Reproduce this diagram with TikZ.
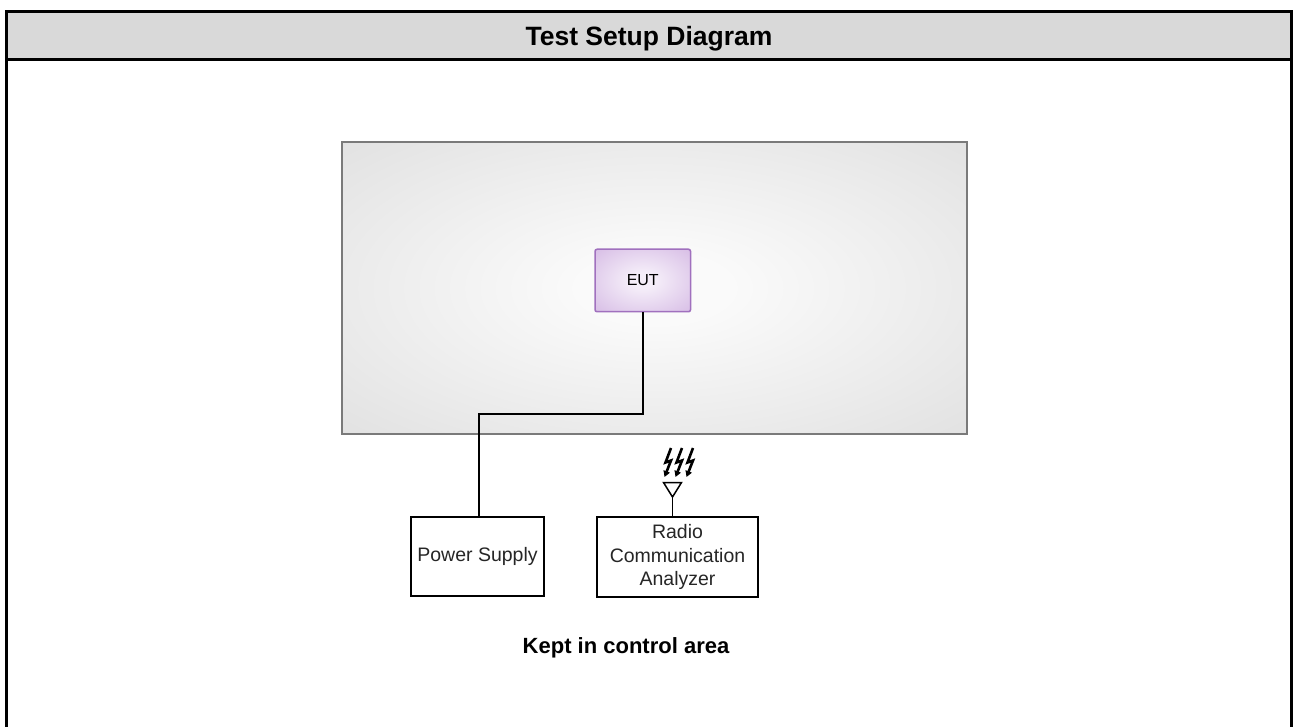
\documentclass[tikz,border=0pt]{standalone}
\usepackage{fontspec}
\setmainfont{Liberation Sans}
\usetikzlibrary{arrows.meta}
\definecolor{hdr}{HTML}{D9D9D9}
\definecolor{areaborder}{HTML}{7A7A7A}
\definecolor{areacenter}{HTML}{FAFAFA}
\definecolor{areamid}{HTML}{D6D6D6}
\definecolor{areaedge}{HTML}{C8C8C8}
\definecolor{eutborder}{HTML}{A070BE}
\definecolor{eutcenter}{HTML}{F5EEF9}
\definecolor{eutmid}{HTML}{C9A6DC}
\definecolor{eutedge}{HTML}{BC94D2}
\definecolor{boxtext}{HTML}{262626}
\pgfdeclareradialshading{arearad}{\pgfpointorigin}{color(0bp)=(areacenter); color(6bp)=(areacenter); color(50bp)=(areamid); color(72bp)=(areaedge)}
\pgfdeclareradialshading{eutrad}{\pgfpointorigin}{color(0bp)=(eutcenter); color(6bp)=(eutcenter); color(50bp)=(eutmid); color(72bp)=(eutedge)}
\tikzset{
  frameline/.style={line width=3pt, line join=miter},
  titletext/.style={font=\bfseries\fontsize{26.5}{30}\selectfont, inner sep=0pt},
  testarea/.style={draw=areaborder, line width=1.7pt, shading=arearad, inner sep=0pt},
  eutbox/.style={draw=eutborder, line width=1.5pt, shading=eutrad, rounded corners=2pt, inner sep=0pt, font=\fontsize{16}{19}\selectfont},
  devbox/.style={draw=black, line width=1.6pt, fill=white, inner sep=0pt, align=center, text=boxtext, font=\fontsize{19.5}{23.5}\selectfont},
  cable/.style={draw=black, line width=1.6pt},
  antline/.style={draw=black, line width=1.5pt, line join=miter},
  bolt/.style={draw=black, line width=2.6pt, -{Triangle[length=6pt,width=6.5pt]}},
  notetext/.style={font=\bfseries\fontsize{22}{26}\selectfont, inner sep=0pt}
}
\begin{document}
\begin{tikzpicture}[x=1pt,y=-1pt]
\useasboundingbox (0,0) rectangle (1293,727);
% header band and frame
\fill[hdr] (6.5,11.5) rectangle (1291.5,59.5);
\draw[frameline] (6.5,727) -- (6.5,11.5) -- (1291.5,11.5) -- (1291.5,727);
\draw[frameline] (6.5,59.5) -- (1291.5,59.5);
\node[titletext, anchor=base] (title) at (649,45.7) {Test Setup Diagram};
% test area
\node[testarea, minimum width=625pt, minimum height=292pt] (area) at (654.5,288) {};
% EUT
\node[eutbox, minimum width=95.5pt, minimum height=62.5pt] (eut) at (642.75,280.5) {EUT};
% devices
\node[devbox, minimum width=133pt, minimum height=79pt] (ps) at (477.5,556.5) {Power Supply};
\node[devbox, minimum width=161pt, minimum height=80pt] (rca) at (677.5,557) {Radio\\Communication\\Analyzer};
% cable
\draw[cable] (eut.south) -- (eut.south |- 0,414) -| ([xshift=1.5pt]ps.north);
% antenna
\coordinate (antfoot) at ([xshift=-5pt]rca.north);
\coordinate (anttip) at (672.5,497);
\draw[antline] (antfoot) -- (anttip);
\draw[antline] (anttip) -- (663.5,482.5) -- (681.5,482.5) -- cycle;
\foreach \dx in {0,11,22} {
  \draw[bolt] ({661+\dx+10},448) -- ({661+\dx+4.5},462.5) -- ({661+\dx+10},460.5) -- ({661+\dx+3.5},477);
}
% note
\node[notetext, anchor=base east] (kept) at (729.5,653) {Kept in control area};
\end{tikzpicture}
\end{document}
